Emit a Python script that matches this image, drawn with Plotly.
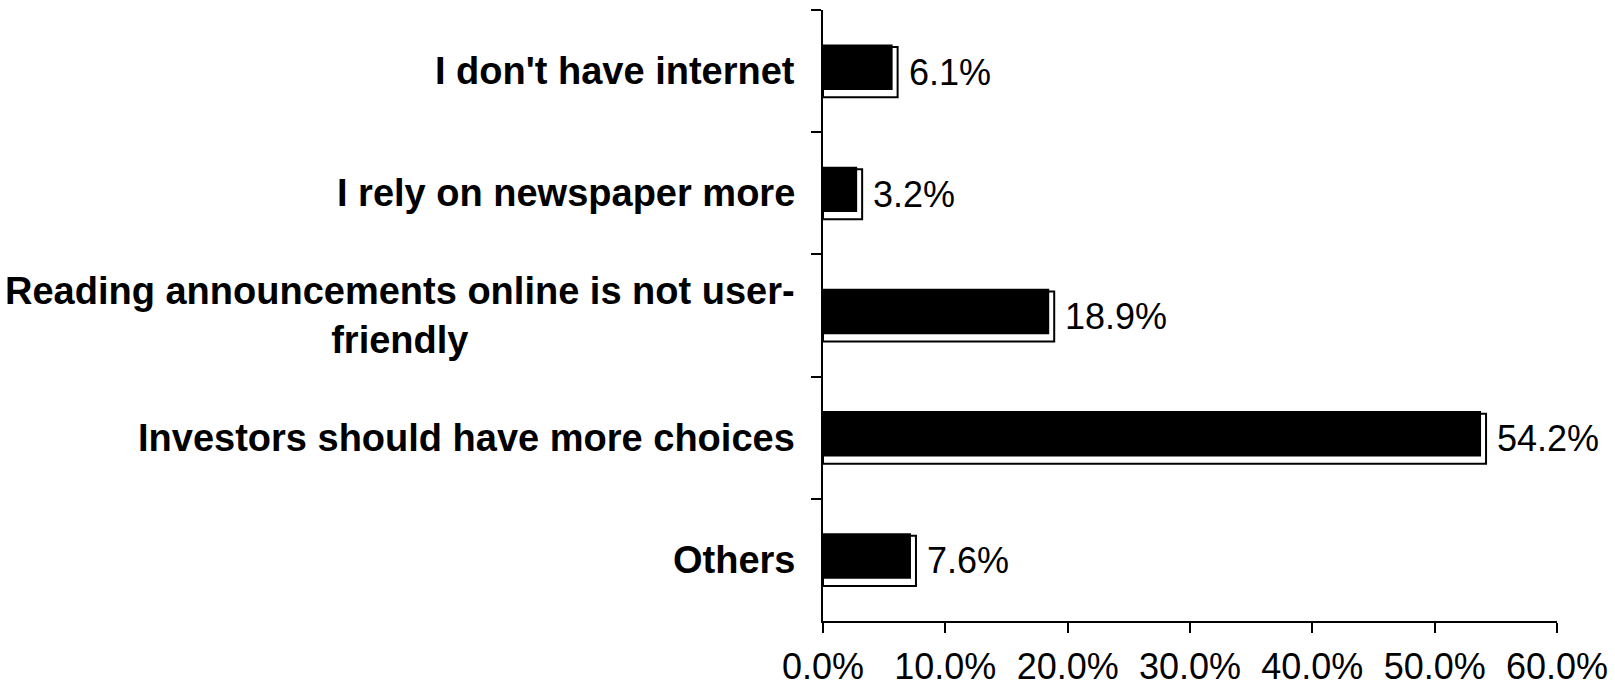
import plotly.graph_objects as go

# Survey responses: reasons given, share of respondents (%)
categories = [
    "I don't have internet",
    "I rely on newspaper more",
    "Reading announcements online is not user-<br>friendly",
    "Investors should have more choices",
    "Others",
]
shares = [6.1, 3.2, 18.9, 54.2, 7.6]
x_ticks = [0, 10, 20, 30, 40, 50, 60]

FONT = "Liberation Sans, Arial, sans-serif"
W, H = 1615, 689
M_L, M_R, M_T, M_B = 823, 58, 10, 68
X_MAX = 60
px_per_unit = (W - M_L - M_R) / X_MAX
depth = 5 / px_per_unit  # front face sits this far short of the framed back box

fig = go.Figure()

# framed back box, ends exactly at the value
fig.add_trace(go.Bar(
    y=categories, x=shares, orientation="h",
    marker=dict(color="white", line=dict(color="black", width=2)),
    width=0.41, offset=-0.197,
    hoverinfo="skip", showlegend=False,
))
# solid black front face, raised slightly
fig.add_trace(go.Bar(
    y=categories, x=[v - depth for v in shares], orientation="h",
    marker=dict(color="black", line=dict(width=0)),
    width=0.372, offset=-0.218,
    hovertext=[f"{v:.1f}%" for v in shares], hoverinfo="text",
    showlegend=False,
))

annotations = []
for cat, v in zip(categories, shares):
    # value label to the right of each bar
    annotations.append(dict(
        x=v, y=cat, xref="x", yref="y", text=f"{v:.1f}%",
        showarrow=False, xanchor="left", yanchor="middle", xshift=9, yshift=-1,
        font=dict(family=FONT, size=36, color="black"),
    ))
    # category label left of the axis
    annotations.append(dict(
        x=0, y=cat, xref="paper", yref="y", text=f"<b>{cat}</b>",
        showarrow=False, xanchor="right", yanchor="middle", align="center",
        xshift=-26, font=dict(family=FONT, size=38, color="black"),
    ))

fig.update_layout(
    width=W, height=H,
    margin=dict(l=M_L, r=M_R, t=M_T, b=M_B, pad=0, autoexpand=False),
    barmode="overlay",
    plot_bgcolor="white", paper_bgcolor="white",
    font=dict(family=FONT, color="black"),
    annotations=annotations,
    xaxis=dict(
        range=[0, X_MAX], tickvals=x_ticks,
        ticktext=[f"{t:.1f}%" for t in x_ticks],
        showgrid=False, zeroline=False,
        showline=True, linecolor="black", linewidth=2,
        ticks="outside", ticklen=10, tickwidth=2, tickcolor="black",
        tickfont=dict(family=FONT, size=36, color="black"),
        ticklabelstandoff=3, automargin=False,
    ),
    yaxis=dict(
        categoryorder="array", categoryarray=categories,
        autorange="reversed",
        showgrid=False, zeroline=False,
        showline=True, linecolor="black", linewidth=2,
        ticks="outside", ticklen=10, tickwidth=2, tickcolor="black",
        tickson="boundaries", showticklabels=False, automargin=False,
    ),
)

fig.write_html("out.html")
